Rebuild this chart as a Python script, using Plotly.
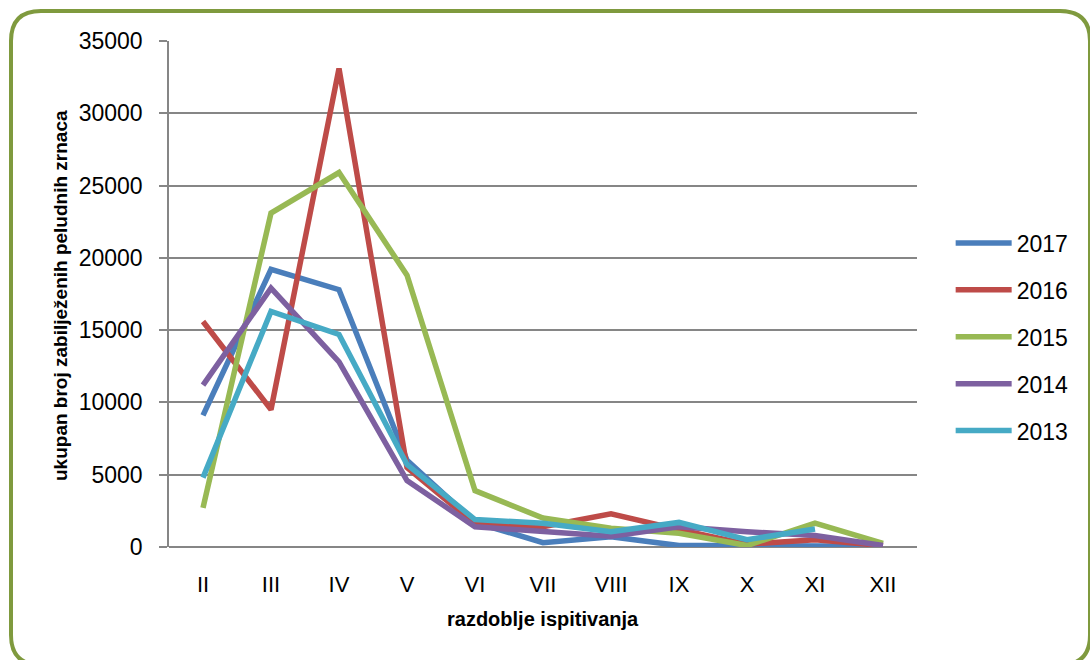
import plotly.graph_objects as go

months = ["II", "III", "IV", "V", "VI", "VII", "VIII", "IX", "X", "XI", "XII"]
y2017 = [9100, 19200, 17800, 6000, 1700, 300, 700, 100, 100, 50, 50]
y2016 = [15600, 9500, 33100, 5500, 1600, 1400, 2300, 1200, 200, 500, 100]
y2015 = [2700, 23100, 25900, 18800, 3900, 2000, 1300, 950, 100, 1650, 250]
y2014 = [11200, 17900, 12800, 4600, 1400, 1100, 750, 1400, 1050, 800, 100]
y2013 = [4800, 16300, 14700, 5700, 1900, 1650, 1050, 1700, 500, 1250, None]

series = [
    ("2017", y2017, "#4A7EBB"),
    ("2016", y2016, "#BE4B48"),
    ("2015", y2015, "#98B954"),
    ("2014", y2014, "#7D60A0"),
    ("2013", y2013, "#46AAC5"),
]

fig = go.Figure()
for name, vals, col in series:
    fig.add_trace(go.Scatter(x=months, y=vals, name=name, mode="lines",
                             legendgroup=name,
                             line=dict(color=col, width=5.5)))

W, H = 1090, 660
L, R, T, B = 169, 173, 41, 113
pw, ph = W - L - R, H - T - B

def px(x):
    return (x - L) / pw

def py(y):
    return (H - B - y) / ph

# rounded border
x0, x1, y0, y1 = 11, 1090, 11, 665
r = 30
path = (f"M {px(x0)},{py(y0 + r)} "
        f"Q {px(x0)},{py(y0)} {px(x0 + r)},{py(y0)} "
        f"L {px(x1 - r)},{py(y0)} "
        f"Q {px(x1)},{py(y0)} {px(x1)},{py(y0 + r)} "
        f"L {px(x1)},{py(y1 - r)} "
        f"Q {px(x1)},{py(y1)} {px(x1 - r)},{py(y1)} "
        f"L {px(x0 + r)},{py(y1)} "
        f"Q {px(x0)},{py(y1)} {px(x0)},{py(y1 - r)} Z")

fig.add_shape(type="path", path=path, xref="paper", yref="paper",
              line=dict(color="#7F9A3E", width=4), layer="above")

font = "Liberation Sans, Arial, sans-serif"

fig.update_layout(
    width=W, height=H,
    margin=dict(l=L, r=R, t=T, b=B),
    paper_bgcolor="white", plot_bgcolor="white",
    font=dict(family=font, size=23, color="black"),
    showlegend=True,
    legend=dict(x=1.045, y=0.415, xanchor="left", yanchor="middle",
                font=dict(size=23), tracegroupgap=14, itemwidth=56,
                bgcolor="rgba(0,0,0,0)"),
    xaxis=dict(type="category", showgrid=False, showline=False,
               ticks="", ticklabelstandoff=22,
               range=[-0.5, 10.5], tickfont=dict(size=22)),
    yaxis=dict(range=[0, 35000], dtick=5000, showgrid=True,
               gridcolor="#868686", gridwidth=1.5,
               showline=True, linecolor="#868686", linewidth=1.5,
               zeroline=True, zerolinecolor="#868686", zerolinewidth=2,
               ticks="outside", ticklen=8, tickcolor="#868686", tickwidth=1.5,
               ticklabelstandoff=12, tickformat="d", tickfont=dict(size=23)),
    annotations=[
        dict(text="<b>razdoblje ispitivanja</b>", xref="paper", yref="paper",
             x=px(543), y=py(619), xanchor="center", yanchor="middle",
             showarrow=False, font=dict(size=20, family=font)),
        dict(text="<b>ukupan broj zabilježenih peludnih zrnaca</b>",
             xref="paper", yref="paper", x=px(60), y=py(296),
             xanchor="center", yanchor="middle", textangle=-90,
             showarrow=False, font=dict(size=19, family=font)),
    ],
)

fig.write_html("out.html", config={"displayModeBar": False},
               post_script="document.body.style.margin='0';document.body.style.overflow='hidden';")
